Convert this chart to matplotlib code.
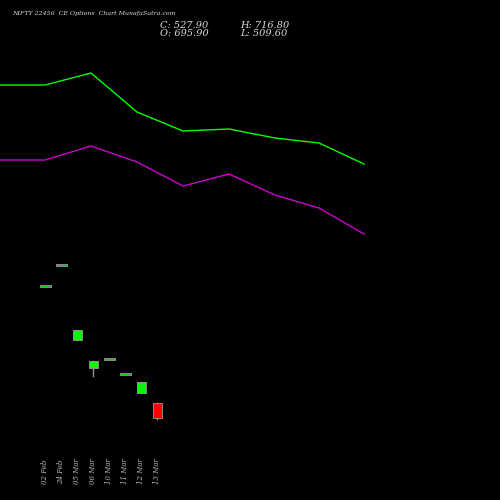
import matplotlib
matplotlib.use("Agg")
import matplotlib.pyplot as plt

dates = ["02 Feb", "24 Feb", "05 Mar", "06 Mar", "10 Mar", "11 Mar", "12 Mar", "13 Mar"]
cx = [45, 61, 77, 93, 109, 125, 141, 157]
opens = [286, 265, 340, 368, 359, 374, 393, 403]
closes = [286, 265, 330, 361, 359, 374, 382, 418]
highs = [286, 265, 330, 361, 359, 374, 382, 403]
lows = [286, 265, 340, 376, 359, 374, 393, 419]

line_x = [0, 45, 91, 137, 183, 229, 275, 319, 364]
upper = [85, 85, 73, 112, 131, 129, 138, 143, 164]
lower = [160, 160, 146, 162, 186, 174, 195, 208, 234]

fig = plt.figure(figsize=(5, 5), dpi=100, facecolor="black")
ax = fig.add_axes([0, 0, 1, 1], facecolor="black")
ax.set_xlim(0, 500)
ax.set_ylim(500, 0)
ax.axis("off")

ax.plot(line_x, upper, color="#00ff00", lw=1)
ax.plot(line_x, lower, color="#cc00cc", lw=1)

for x, o, c, h, l in zip(cx, opens, closes, highs, lows):
    ax.plot([x, x], [min(h, o, c), max(l, o, c)], color="#999999", lw=1, zorder=2)
    if o == c:
        ax.plot([x - 4.5, x + 4.5], [o, o], color="#999999", lw=2, zorder=3)
        ax.plot([x - 4.5, x + 4.5], [o, o], color="#00cc00", lw=0.6, zorder=3)
    else:
        col = "#00ff00" if c < o else "#ff0000"
        ax.add_patch(plt.Rectangle((x - 4.5, min(o, c)), 9, abs(o - c), facecolor=col,
                                   edgecolor="#999999", lw=0.6, zorder=3))

for x, d in zip(cx, dates):
    ax.text(x, 484, d, rotation=90, color="#bbbbbb", fontsize=5, family="DejaVu Serif",
            style="italic", ha="center", va="bottom")

ax.text(12, 14, "NIFTY 22450  CE Options  Chart MunafaSutra.com", color="#dddddd", fontsize=4.5,
        family="DejaVu Serif", style="italic", va="center")
ax.text(160, 25, "C: 527.90", color="#dddddd", fontsize=7, family="DejaVu Serif", style="italic", va="center")
ax.text(160, 33.5, "O: 695.90", color="#dddddd", fontsize=7, family="DejaVu Serif", style="italic", va="center")
ax.text(240, 25, "H: 716.80", color="#dddddd", fontsize=7, family="DejaVu Serif", style="italic", va="center")
ax.text(240, 33.5, "L: 509.60", color="#dddddd", fontsize=7, family="DejaVu Serif", style="italic", va="center")

fig.savefig("out.png", dpi=100, facecolor="black")
